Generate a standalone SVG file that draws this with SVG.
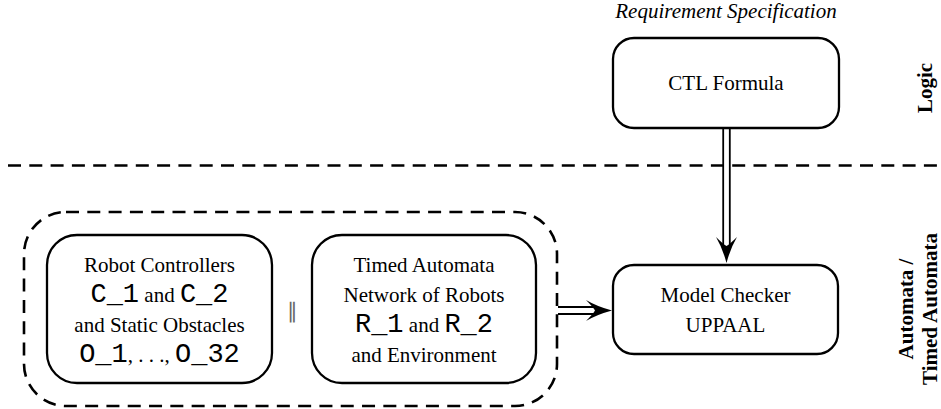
<svg xmlns="http://www.w3.org/2000/svg" width="941" height="409" viewBox="0 0 941 409" font-family="'Liberation Serif', 'Times New Roman', serif">
<style>
.box{fill:#fff;stroke:#000;stroke-width:2.3}
.dash{fill:none;stroke:#000;stroke-width:2.6;stroke-dasharray:13 8.3}
.t{font-family:"Liberation Serif","Times New Roman",serif;font-size:21px;fill:#000;text-anchor:middle}
.m{font-family:"Liberation Mono","Courier New",monospace;font-size:27px}
.it{font-style:italic}
.b{font-weight:bold}
.ln{stroke:#000;stroke-width:1.8;fill:none}
</style>
<rect width="941" height="409" fill="#fff"/>
<g id="separator">
<line class="dash" x1="8" y1="165.5" x2="941" y2="165.5"/>
</g>
<g id="layer-labels">
<text class="t b" transform="translate(932,88) rotate(-90)">Logic</text>
<text class="t b" transform="translate(913,309) rotate(-90)">Automata /</text>
<text class="t b" transform="translate(937,309) rotate(-90)">Timed Automata</text>
</g>
<g id="spec-label">
<text class="t it" x="726" y="18">Requirement Specification</text>
</g>
<g id="system-group">
<rect class="dash" x="24" y="212" width="533" height="194" rx="42" ry="42"/>
</g>
<g id="robot-controllers">
<rect class="box" x="47" y="235" width="225" height="148" rx="30" ry="30"/>
<text class="t" x="159.5" y="272">Robot Controllers</text>
<text class="t" x="159.5" y="302"><tspan class="m">C_1</tspan> and <tspan class="m">C_2</tspan></text>
<text class="t" x="159.5" y="332">and Static Obstacles</text>
<text class="t" x="159.5" y="362"><tspan class="m">O_1</tspan>, . . ., <tspan class="m">O_32</tspan></text>
</g>
<g id="parallel">
<text class="t" x="292" y="318" style="fill:#666">∥</text>
</g>
<g id="timed-automata">
<rect class="box" x="312" y="235" width="224" height="148" rx="30" ry="30"/>
<text class="t" x="424" y="272">Timed Automata</text>
<text class="t" x="424" y="302">Network of Robots</text>
<text class="t" x="424" y="332"><tspan class="m">R_1</tspan> and <tspan class="m">R_2</tspan></text>
<text class="t" x="424" y="362">and Environment</text>
</g>
<g id="ctl-formula">
<rect class="box" x="613" y="38" width="226" height="90" rx="21" ry="21"/>
<text class="t" x="726" y="90">CTL Formula</text>
</g>
<g id="model-checker">
<rect class="box" x="613" y="265" width="225" height="89" rx="21" ry="21"/>
<text class="t" x="725.5" y="302">Model Checker</text>
<text class="t" x="725.5" y="332">UPPAAL</text>
</g>
<g id="connectors">
<line class="ln" x1="723.2" y1="128" x2="723.2" y2="247"/>
<line class="ln" x1="729.8" y1="128" x2="729.8" y2="247"/>
<path d="M726.5,263 Q722.5,248 716,237 Q723,244 726.5,246 Q730,244 737,237 Q730.5,248 726.5,263 Z" fill="#000"/>
<line class="ln" x1="558" y1="307" x2="596" y2="307"/>
<line class="ln" x1="558" y1="314" x2="596" y2="314"/>
<path d="M612,310.5 Q597,306.5 586,300 Q593,307 595,310.5 Q593,314 586,321 Q597,314.5 612,310.5 Z" fill="#000"/>
</g>
</svg>
